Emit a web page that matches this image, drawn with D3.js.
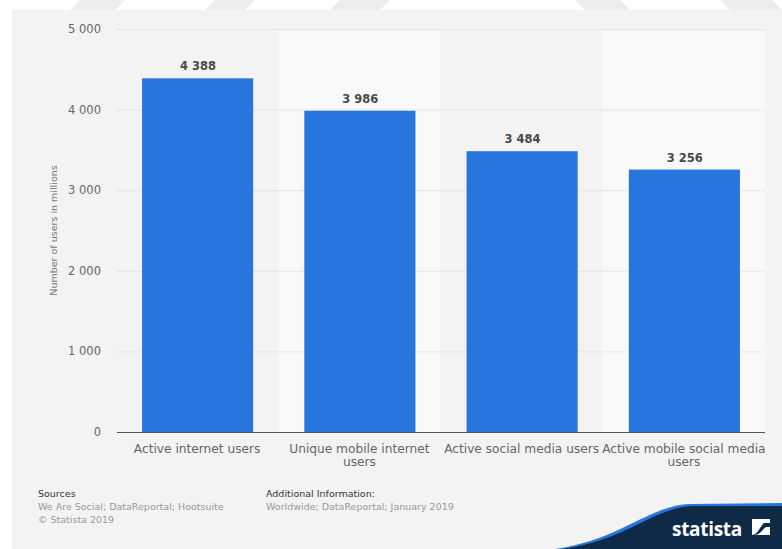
<!DOCTYPE html>
<html><head><meta charset="utf-8">
<script src="https://cdn.jsdelivr.net/npm/d3@7"></script>
<style>body{margin:0;background:#fff;}svg{display:block;font-family:"DejaVu Sans",sans-serif;}</style>
</head><body><svg id="c" width="782" height="549"></svg>
<script>
const categories = ["Active internet users", "Unique mobile internet users", "Active social media users", "Active mobile social media users"];
const labelLines = [["Active internet users"], ["Unique mobile internet", "users"], ["Active social media users"], ["Active mobile social media", "users"]];
const values = [4388, 3986, 3484, 3256];
const yTicks = [0, 1000, 2000, 3000, 4000, 5000];
const yTitle = "Number of users in millions";

const svg = d3.select("#c");
const W = 782, H = 549;
const fmt = v => d3.format(",")(v).replace(/,/g, " ");

// top watermark strip
svg.append("rect").attr("x",0).attr("y",0).attr("width",W).attr("height",10).attr("fill","#fff");
[[70,125,1],[205,255,1],[330,390,1],[575,630,-1],[720,782,-1]].forEach(([a,b,s])=>{
  const d = s>0 ? `M${a+10},0 L${b},0 L${b-10},10 L${a},10 Z` : `M${a},0 L${b-10},0 L${b},10 L${a+10},10 Z`;
  svg.append("path").attr("d",d).attr("fill","#ededed");
});
// panel
svg.append("rect").attr("x",12).attr("y",10).attr("width",W-12).attr("height",H-10).attr("fill","#f3f3f3");

const m = {l:116, r:765, t:29, b:432};
const x = d3.scaleBand().domain(categories).range([m.l, m.r]).padding(0);
const y = d3.scaleLinear().domain([0,5000]).range([m.b, m.t]);

// alternating bands
svg.append("g").selectAll("rect").data(categories).join("rect")
  .attr("x", d=>x(d)).attr("y", m.t+2).attr("width", x.bandwidth()).attr("height", m.b-m.t-2)
  .attr("fill", (d,i)=> i%2 ? "#f9f9f9" : "#f3f3f3");

// gridlines
svg.append("g").selectAll("line").data(yTicks.filter(t=>t>0)).join("line")
  .attr("x1", m.l+1).attr("x2", m.r).attr("y1", d=>y(d)+0.5).attr("y2", d=>y(d)+0.5)
  .attr("stroke","#d6d6d6").attr("stroke-dasharray","1,1").attr("stroke-width",1);

// y tick labels
svg.append("g").selectAll("text").data(yTicks).join("text")
  .attr("x", 101).attr("y", d=>y(d)+4).attr("text-anchor","end")
  .attr("font-size",11.5).attr("fill","#666").text(d=>fmt(d));

// y title
svg.append("text").attr("transform",`translate(57,${(m.t+m.b)/2}) rotate(-90)`)
  .attr("text-anchor","middle").attr("font-size",9.5).attr("fill","#777").text(yTitle);

// bars
const bw = x.bandwidth()*0.685;
svg.append("g").selectAll("rect").data(values).join("rect")
  .attr("x",(d,i)=>x(categories[i])+(x.bandwidth()-bw)/2+0.5)
  .attr("y", d=>y(d)).attr("width", bw).attr("height", d=>m.b-y(d))
  .attr("fill","#2876dd");

// value labels
svg.append("g").selectAll("text").data(values).join("text")
  .attr("x",(d,i)=>x(categories[i])+x.bandwidth()/2+1).attr("y", d=>y(d)-8)
  .attr("text-anchor","middle").attr("font-size",11.5).attr("font-weight","bold")
  .attr("fill","#4a4a4a").text(d=>fmt(d));

// axis line
svg.append("line").attr("x1",m.l+1).attr("x2",m.r).attr("y1",m.b+0.5).attr("y2",m.b+0.5)
  .attr("stroke","#555").attr("stroke-width",1);

// x labels
const xl = svg.append("g").selectAll("text").data(categories).join("text")
  .attr("x", d=>x(d)+x.bandwidth()/2).attr("y", m.b+21)
  .attr("text-anchor","middle").attr("font-size",12.2).attr("fill","#666");
xl.each(function(d,i){
  d3.select(this).selectAll("tspan").data(labelLines[i]).join("tspan")
    .attr("x", x(d)+x.bandwidth()/2).attr("dy",(t,j)=>j?12.5:0).text(t=>t);
});

// footer
const f = svg.append("g").attr("font-size",9.5);
f.append("text").attr("x",38).attr("y",497).attr("fill","#333").text("Sources");
f.append("text").attr("x",38).attr("y",510).attr("fill","#999").text("We Are Social; DataReportal; Hootsuite");
f.append("text").attr("x",38).attr("y",523).attr("fill","#999").text("© Statista 2019");
f.append("text").attr("x",266).attr("y",497).attr("fill","#333").text("Additional Information:");
f.append("text").attr("x",266).attr("y",510).attr("fill","#999").text("Worldwide; DataReportal; January 2019");

// statista logo
svg.append("path").attr("d","M555,549 C620,540 650,505 690,504 L782,503 L782,549 Z").attr("fill","#2876dd");
svg.append("path").attr("d","M562,549 C625,541 655,507 692,506 L782,506 L782,549 Z").attr("fill","#0e2a47");
svg.append("text").attr("x",672).attr("y",536).attr("font-size",19).attr("font-weight","bold")
  .attr("font-family","'Open Sans','DejaVu Sans',sans-serif").attr("fill","#fff").attr("letter-spacing",-0.3).text("statista");
svg.append("rect").attr("x",752).attr("y",519).attr("width",18).attr("height",16).attr("fill","#fff");
svg.append("path").attr("d","M752,535 C758,535 760,526 764,523 L770,523 L770,527 L766,527 C762,530 760,535 754,535 Z").attr("fill","#0e2a47");
</script></body></html>
